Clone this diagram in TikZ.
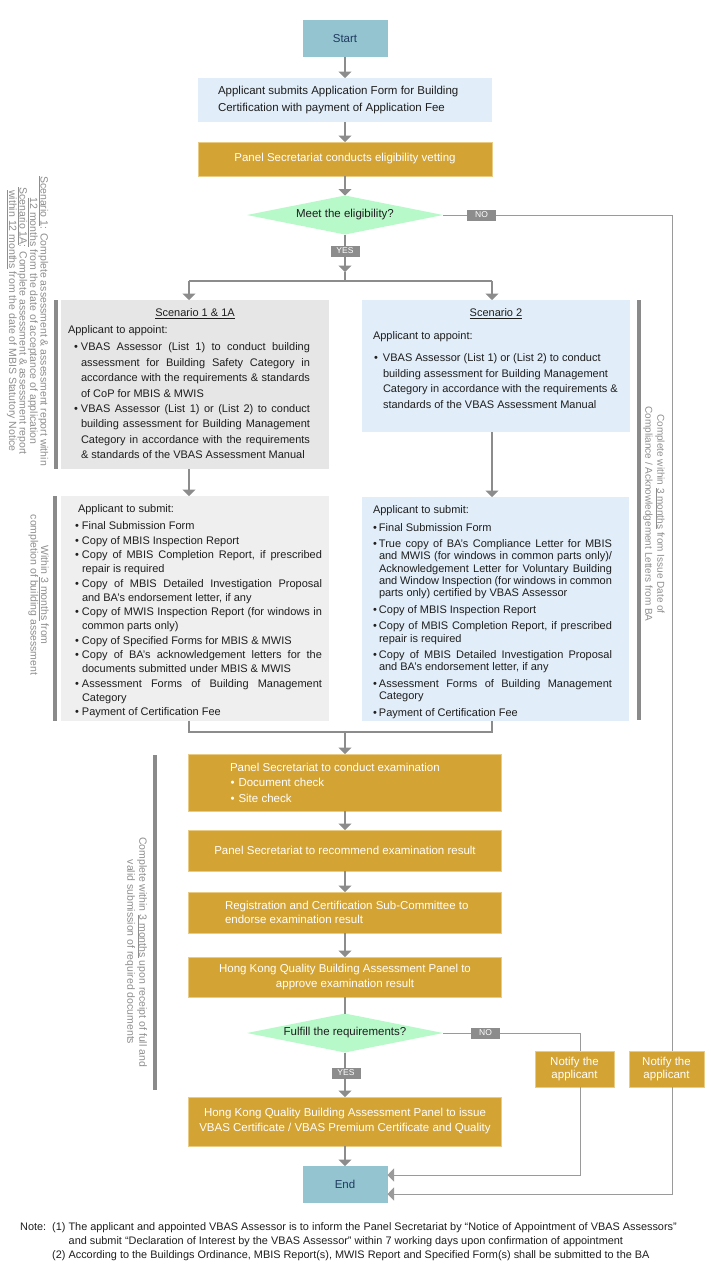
\documentclass[tikz,border=0pt]{standalone}
\usepackage{fontspec}
\setmainfont{Liberation Sans}
\usetikzlibrary{arrows.meta,shapes.geometric,calc}
\definecolor{linec}{HTML}{8C8C8C}
\definecolor{loopc}{HTML}{9A9A9A}
\definecolor{labc}{HTML}{8C8C8C}
\definecolor{startc}{HTML}{93C4D0}
\definecolor{navy}{HTML}{1F3A5F}
\definecolor{lblue}{HTML}{E1EDF8}
\definecolor{grayA}{HTML}{E6E6E6}
\definecolor{grayB}{HTML}{EFEFEF}
\definecolor{gold}{HTML}{D3A334}
\definecolor{goldedge}{HTML}{E9CB85}
\definecolor{lgreen}{HTML}{B7F9C9}
\definecolor{txt}{HTML}{1E1E1E}
\definecolor{annc}{HTML}{8E8E8E}
\definecolor{barc}{HTML}{8A8A8A}
\newcommand{\itm}[2][1.5pt]{\par\leavevmode\llap{\textbullet\hspace{#1}}#2}
\tolerance=10000 \hbadness=10000 \vbadness=10000 \hfuzz=3pt
\begin{document}
\begin{tikzpicture}[x=1pt,y=-1pt,
  line/.style={draw=linec,line width=1.2pt},
  loopline/.style={draw=loopc,line width=1pt},
  arr/.style={line,-{Triangle[width=13pt,length=6.5pt]}},
  looparr/.style={loopline,-{Triangle[width=13pt,length=6.5pt]}},
  lab/.style={fill=labc,text=white,font=\fontsize{8.5}{8.5}\selectfont,inner sep=0pt,minimum width=29pt,minimum height=11pt},
  box/.style={anchor=north west,inner sep=0pt,outer sep=0pt},
  goldbase/.style={box,fill=gold,draw=goldedge,line width=0.5pt,text=white,font=\fontsize{11.5}{14}\selectfont},
  goldbox/.style={goldbase,align=center},
  term/.style={box,fill=startc,text=navy,font=\fontsize{11.5}{14}\selectfont,minimum width=85pt,minimum height=37pt},
  dia/.style={diamond,fill=lgreen,inner sep=0pt,outer sep=0pt,minimum width=196pt,minimum height=39pt,font=\fontsize{11.5}{14}\selectfont,text=txt},
  ann/.style={text=annc,font=\fontsize{10.5}{10.5}\selectfont,align=center,rotate=-90,inner sep=0pt},
  notetext/.style={anchor=base west,inner sep=0pt,text=txt,font=\fontsize{10.9}{12}\selectfont},
  bar/.style={fill=barc}
]
\useasboundingbox (0,0) rectangle (710,1288);

% ---------- main column ----------
\node[term] (start) at (302.5,20) {Start};
\node[box,fill=lblue,minimum width=294pt,minimum height=44pt] (app) at (198,78)
  {\parbox[c][44pt][c]{294pt}{\fontsize{11.5}{17}\selectfont\color{txt}\leftskip=20pt
   Applicant submits Application Form for Building\\Certification with payment of Application Fee}};
\node[goldbox,minimum width=294pt,minimum height=34pt] (vet) at (198,142) {Panel Secretariat conducts eligibility vetting};
\node[dia] (d1) at (345,215) {\makebox[0pt]{Meet the eligibility?}};

% ---------- scenario boxes ----------
\node[box,fill=grayA,minimum width=268pt,minimum height=169pt] (sc1) at (61,300)
  {\parbox[c][169pt][t]{268pt}{\fontsize{11}{15.4}\selectfont\color{txt}%
   \vspace*{9pt}{\centering\underline{Scenario 1 \& 1A}\par}
   \vspace{1.6pt}\leftskip=7pt\rightskip=19pt
   Applicant to appoint:\par
   \vspace{1.6pt}\leftskip=20pt
   \itm[3pt]{VBAS Assessor (List 1) to conduct building\linebreak assessment for Building Safety Category in\linebreak accordance with the requirements \& standards\linebreak of CoP for MBIS \& MWIS}
   \itm[3pt]{VBAS Assessor (List 1) or (List 2) to conduct\linebreak building assessment for Building Management\linebreak Category in accordance with the requirements\linebreak \& standards of the VBAS Assessment Manual}\par}};

\node[box,fill=lblue,minimum width=268pt,minimum height=132pt] (sc2) at (362,300)
  {\parbox[c][132pt][t]{268pt}{\fontsize{11}{15.4}\selectfont\color{txt}%
   \vspace*{9pt}{\centering\underline{Scenario 2}\par}
   \vspace{7.6pt}\leftskip=11pt\rightskip=0pt plus 1fil
   Applicant to appoint:\par
   \vspace{6.6pt}\leftskip=21pt
   \itm[5pt]{VBAS Assessor (List 1) or (List 2) to conduct\\building assessment for Building Management\\Category in accordance with the requirements \&\\standards of the VBAS Assessment Manual}\par}};

% ---------- submit boxes ----------
\node[box,fill=grayB,minimum width=268pt,minimum height=225pt] (sl) at (61,496)
  {\parbox[c][225pt][t]{268pt}{\fontsize{11}{14}\selectfont\color{txt}\parskip=0.5pt
   \vspace*{8.5pt}\leftskip=17pt\rightskip=7pt
   Applicant to submit:\par
   \vspace{2.5pt}\leftskip=21pt
   \itm[3pt]{Final Submission Form}
   \itm[3pt]{Copy of MBIS Inspection Report}
   \itm[3pt]{Copy of MBIS Completion Report, if prescribed\linebreak repair is required}
   \itm[3pt]{Copy of MBIS Detailed Investigation Proposal\linebreak and BA's endorsement letter, if any}
   \itm[3pt]{Copy of MWIS Inspection Report (for windows in\linebreak common parts only)}
   \itm[3pt]{Copy of Specified Forms for MBIS \& MWIS}
   \itm[3pt]{Copy of BA's acknowledgement letters for the\linebreak documents submitted under MBIS \& MWIS}
   \itm[3pt]{Assessment Forms of Building Management\linebreak Category}
   \itm[3pt]{Payment of Certification Fee}\par}};

\node[box,fill=lblue,minimum width=267pt,minimum height=224pt] (sr) at (362,497)
  {\parbox[c][224pt][t]{267pt}{\fontsize{11}{12.3}\selectfont\color{txt}\parskip=4.2pt
   \vspace*{4pt}\leftskip=11pt\rightskip=17pt
   Applicant to submit:\par
   \vspace{1.5pt}\leftskip=17pt
   \itm[2pt]{Final Submission Form}
   \itm[2pt]{True copy of BA's Compliance Letter for MBIS\linebreak and MWIS (for windows in common parts only)/\linebreak Acknowledgement Letter for Voluntary Building\linebreak and Window Inspection (for windows in common\linebreak parts only) certified by VBAS Assessor}
   \itm[2pt]{Copy of MBIS Inspection Report}
   \itm[2pt]{Copy of MBIS Completion Report, if prescribed\linebreak repair is required}
   \itm[2pt]{Copy of MBIS Detailed Investigation Proposal\linebreak and BA's endorsement letter, if any}
   \itm[2pt]{Assessment Forms of Building Management\linebreak Category}
   \itm[2pt]{Payment of Certification Fee}\par}};

% ---------- examination ----------
\node[goldbase,minimum width=313pt,minimum height=57pt] (ex1) at (188.5,754)
  {\parbox[c][57pt][c]{313pt}{\fontsize{11.5}{15.5}\selectfont\leftskip=41.5pt
   Panel Secretariat to conduct examination\\\hspace*{0.5pt}\textbullet\hspace{4pt}Document check\\\hspace*{0.5pt}\textbullet\hspace{4pt}Site check}};
\node[goldbox,minimum width=313pt,minimum height=41pt] (ex2) at (188.5,830) {Panel Secretariat to recommend examination result};
\node[goldbase,minimum width=313pt,minimum height=41pt] (ex3) at (188.5,892)
  {\parbox[c][41pt][c]{313pt}{\fontsize{11.5}{13.5}\selectfont\leftskip=36.5pt
   Registration and Certification Sub-Committee to\\endorse examination result}};
\node[goldbox,minimum width=313pt,minimum height=40pt,font=\fontsize{11.5}{15}\selectfont] (ex4) at (188.5,957) {Hong Kong Quality Building Assessment Panel to\\approve examination result};
\node[dia] (d2) at (345,1033) {\makebox[0pt]{Fulfill the requirements?}};
\node[goldbox,minimum width=313pt,minimum height=49pt,font=\fontsize{11.5}{15}\selectfont] (issue) at (188.5,1097) {Hong Kong Quality Building Assessment Panel to issue\\VBAS Certificate / VBAS Premium Certificate and Quality};
\node[term] (stop) at (302.5,1166) {End};
\node[goldbox,minimum width=79pt,minimum height=36pt,font=\fontsize{11.5}{12.5}\selectfont] (n1) at (535,1051) {Notify the\\applicant};
\node[goldbox,minimum width=75pt,minimum height=36pt,font=\fontsize{11.5}{12.5}\selectfont] (n2) at (629,1051) {Notify the\\applicant};

% ---------- bars ----------
\fill[bar] (53.5,300) rectangle (57.5,469);
\fill[bar] (53,496) rectangle (57,721);
\fill[bar] (636.5,300) rectangle (640.5,720);
\fill[bar] (152.5,755) rectangle (156.5,1090);

% ---------- annotations ----------
\node[ann] (a1) at (27.5,321) {\underline{Scenario 1}: Complete assessment \& assessment report within\\\underline{12 months} from the date of acceptance of application\\\underline{Scenario 1A}: Complete assessment \& assessment report\\\underline{within 12 months} from the date of MBIS Statutory Notice};
\node[ann] (a2) at (38.5,595) {Within \underline{3 months} from\\completion of building assessment};
\node[ann,font=\fontsize{10}{12}\selectfont] (a3) at (654,514) {Complete within \underline{3 months} from Issue Date of\\Compliance / Acknowledgement Letters from BA};
\node[ann,font=\fontsize{10.5}{12}\selectfont] (a4) at (136,952) {Complete within \underline{3 months} upon receipt of full and\\valid submission of required documents};

% ---------- connectors ----------
\coordinate (j1) at (345,272);
\coordinate (j2) at (345,281);
\coordinate (bl) at (189,281);
\coordinate (br) at (492,281);
\coordinate (m) at (345,732);
\coordinate (r1) at (672,215);
\coordinate (r2) at (580,1033);

\draw[arr] (start.south) -- (app.north -| start.south);
\draw[arr] (app.south -| start.south) -- (vet.north -| start.south);
\draw[arr] (vet.south -| start.south) -- (d1.north);
\draw[arr] (d1.south) -- (j1);
\draw[line] (j1) -- (j2);
\draw[line] (bl) -- (br);
\draw[arr] (bl) -- (bl |- sc1.north);
\draw[arr] (br) -- (br |- sc2.north);
\draw[arr] (sc1.south -| bl) -- (sl.north -| bl);
\draw[arr] (sc2.south -| br) -- (sr.north -| br);
\draw[line] (sl.south -| bl) |- (m);
\draw[line] (sr.south -| br) |- (m);
\draw[arr] (m) -- (ex1.north);
\draw[arr] (ex1.south) -- (ex2.north);
\draw[arr] (ex2.south) -- (ex3.north);
\draw[arr] (ex3.south) -- (ex4.north);
\draw[line] (ex4.south) -- (d2.north);
\draw[arr] (d2.south) -- (issue.north);
\draw[arr] (issue.south) -- (stop.north);

\draw[loopline] (d1.east) -- (r1) -- (r1 |- n2.north);
\draw[looparr] (r1 |- n2.south) |- ([yshift=-9.5pt]stop.east);
\draw[loopline] (d2.east) -- (r2) -- (r2 |- n1.north);
\draw[looparr] (r2 |- n1.south) |- ([yshift=9.5pt]stop.east);

\node[lab] (yes1) at (345,251) {YES};
\node[lab] (no1) at (481.5,215) {NO};
\node[lab] (yes2) at (346,1073) {YES};
\node[lab] (no2) at (485.5,1033) {NO};

% ---------- notes ----------
\node[notetext] (note) at (20,1230) {Note:};
\node[notetext] (note1) at (52,1230) {(1) The applicant and appointed VBAS Assessor is to inform the Panel Secretariat by ``Notice of Appointment of VBAS Assessors''};
\node[notetext] (note1b) at (68.5,1244) {and submit ``Declaration of Interest by the VBAS Assessor'' within 7 working days upon confirmation of appointment};
\node[notetext] (note2) at (52,1258) {(2) According to the Buildings Ordinance, MBIS Report(s), MWIS Report and Specified Form(s) shall be submitted to the BA};
\end{tikzpicture}
\end{document}
